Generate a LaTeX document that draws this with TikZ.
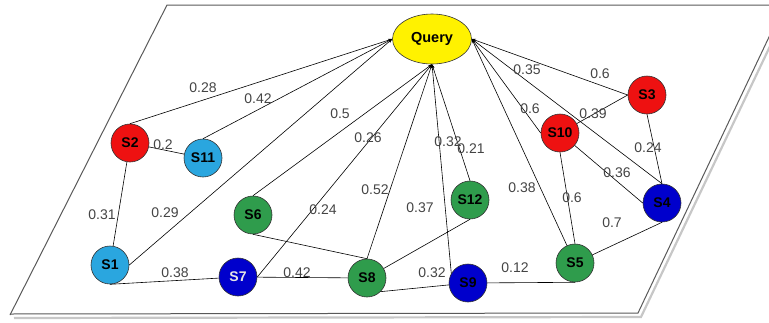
\documentclass[tikz,border=0pt]{standalone}
\usepackage{fontspec}
\setmainfont{Liberation Sans}
\usetikzlibrary{arrows.meta}
\definecolor{nred}{HTML}{EE1111}
\definecolor{nlblue}{HTML}{2AA6DF}
\definecolor{ngreen}{HTML}{2F9C4C}
\definecolor{nblue}{HTML}{0000CC}
\definecolor{lbl}{HTML}{444444}
\tikzset{
  snode/.style={circle,draw=black!80,line width=0.6pt,minimum size=38pt,inner sep=0pt,
    font=\fontsize{14}{14}\selectfont\bfseries,text=black},
  qnode/.style={ellipse,draw=black!80,line width=0.6pt,fill=yellow,minimum width=79pt,minimum height=50pt,inner sep=0pt,
    font=\fontsize{14.5}{14.5}\selectfont\bfseries},
  wlabel/.style={text=lbl,font=\fontsize{14}{14}\selectfont,inner sep=0pt},
  edge/.style={draw=black,line width=0.6pt},
  qedge/.style={draw=black,line width=0.6pt,-{Stealth[length=4pt,width=3pt]}},
  frame/.style={draw=black!65,line width=1pt},
  shadowline/.style={draw=black!22,line width=2.2pt},
}
\usetikzlibrary{shapes.geometric}
\begin{document}
\begin{tikzpicture}[x=1pt,y=-1pt]
\useasboundingbox (0,0) rectangle (769,322);
\begin{scope}
\clip (0,0) rectangle (769,322);
% plane shadow
\draw[shadowline] (14,318) -- (641,317) -- (793,-2);
\draw[frame] (10,315) -- (167,5) -- (800,5);
\draw[frame] (10,314) -- (638,313) -- (788,-3);
\end{scope}
% nodes
\node[qnode] (Q) at (432,39) {Query};
\node[snode,fill=nred] (S2) at (130,143) {S2};
\node[snode,fill=nlblue] (S11) at (203,158) {S11};
\node[snode,fill=nred] (S3) at (647,95) {S3};
\node[snode,fill=nred] (S10) at (560,133) {S10};
\node[snode,fill=nlblue] (S1) at (110,265) {S1};
\node[snode,fill=ngreen] (S6) at (253,215) {S6};
\node[snode,fill=nblue,text=black!10] (S7) at (238,277) {S7};
\node[snode,fill=ngreen] (S8) at (367,278) {S8};
\node[snode,fill=ngreen] (S12) at (470,200) {S12};
\node[snode,fill=nblue] (S9) at (468,283) {S9};
\node[snode,fill=ngreen] (S5) at (575,263) {S5};
\node[snode,fill=nblue] (S4) at (662,203) {S4};
% edges to Query
\draw[qedge] (S2.north) -- (Q.west);
\draw[qedge] (S11.north) -- (Q.west);
\draw[qedge] (S1.east) -- (Q.west);
\draw[qedge] (S6.north) -- (Q.south);
\draw[qedge] (S7.east) -- (Q.south);
\draw[qedge] (S8.north) -- (Q.south);
\draw[qedge] (S9.150) -- (Q.south);
\draw[qedge] (S12.north) -- (Q.south);
\draw[qedge] (S5) -- (Q.east);
\draw[qedge] (S10.west) -- (Q.east);
\draw[qedge] (S4.north) -- (Q.east);
\draw[qedge] (S3.west) -- (Q.east);
% other edges
\draw[edge] (S2) -- (S11);
\draw[edge] (S2) -- (S1);
\draw[edge] (S1.south) -- (S7);
\draw[edge] (S7) -- (S8);
\draw[edge] (S6.south) -- (S8.north);
\draw[edge] (S8) -- (S12.south);
\draw[edge] (S8.south east) -- (S9);
\draw[edge] (S9) -- (S5.south);
\draw[edge] (S5) -- (S4.south);
\draw[edge] (S10.south) -- (S5.north);
\draw[edge] (S10) -- (S4.west);
\draw[edge] (S10) -- (S3.west);
\draw[edge] (S3.south) -- (S4.north);
% weight labels
\node[wlabel] (l1) at (203,88) {0.28};
\node[wlabel] (l2) at (258,99) {0.42};
\node[wlabel] (l3) at (340,114) {0.5};
\node[wlabel] (l4) at (368,138) {0.26};
\node[wlabel] (l5) at (448,142) {0.32};
\node[wlabel] (l6) at (471,149) {0.21};
\node[wlabel] (l7) at (527,70) {0.35};
\node[wlabel] (l8) at (600,74) {0.6};
\node[wlabel] (l9) at (530,109) {0.6};
\node[wlabel] (l10) at (593,114) {0.39};
\node[wlabel] (l11) at (163,145) {0.2};
\node[wlabel] (l12) at (648,148) {0.24};
\node[wlabel] (l13) at (617,173) {0.36};
\node[wlabel] (l14) at (102,215) {0.31};
\node[wlabel] (l15) at (165,213) {0.29};
\node[wlabel] (l16) at (323,210) {0.24};
\node[wlabel] (l17) at (375,190) {0.52};
\node[wlabel] (l18) at (420,208) {0.37};
\node[wlabel] (l19) at (522,188) {0.38};
\node[wlabel] (l20) at (572,198) {0.6};
\node[wlabel] (l21) at (612,223) {0.7};
\node[wlabel] (l22) at (175,273) {0.38};
\node[wlabel] (l23) at (297,273) {0.42};
\node[wlabel] (l24) at (432,273) {0.32};
\node[wlabel] (l25) at (515,268) {0.12};
\end{tikzpicture}
\end{document}
